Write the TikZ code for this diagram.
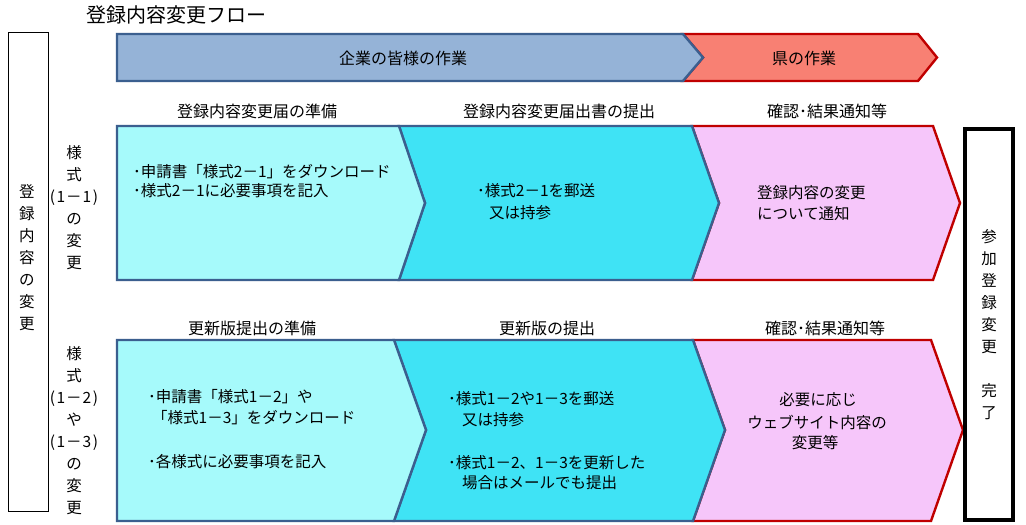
\documentclass[tikz,border=0pt]{standalone}
\usepackage{fontspec}
\setmainfont{Noto Sans CJK JP}
\definecolor{bluefill}{RGB}{149,179,215}
\definecolor{blueline}{RGB}{59,95,143}
\definecolor{salmon}{RGB}{248,128,115}
\definecolor{redline}{RGB}{192,0,0}
\definecolor{lightcyan}{RGB}{166,250,251}
\definecolor{cyanfill}{RGB}{63,227,245}
\definecolor{pinkfill}{RGB}{246,198,250}
\tikzset{
  bluebox/.style={fill=bluefill, draw=blueline, line width=2.4pt, line join=miter},
  redbox/.style={fill=salmon, draw=redline, line width=2.4pt, line join=miter},
  prepbox/.style={fill=lightcyan, draw=blueline, line width=2.4pt, line join=miter},
  subbox/.style={fill=cyanfill, draw=blueline, line width=2.4pt, line join=miter},
  prefbox/.style={fill=pinkfill, draw=redline, line width=2.4pt, line join=miter},
  lbl/.style={font=\fontsize{16}{19}\selectfont, inner sep=0pt},
  body/.style={font=\fontsize{15.5}{19}\selectfont, anchor=west, inner sep=0pt},
  cbody/.style={font=\fontsize{15.5}{19}\selectfont, inner sep=0pt},
  vert/.style={align=center, font=\fontsize{15.5}{22}\selectfont, inner sep=0pt},
}
\begin{document}
\begin{tikzpicture}[x=1pt,y=-1pt]
\useasboundingbox[fill=white] (0,0) rectangle (1026,525);

% title
\node[anchor=west, inner sep=0pt, font=\fontsize{20}{22}\selectfont] (title) at (86,15) {登録内容変更フロー};

% left frame
\draw[black, line width=1pt] (8.5,32.5) rectangle (48.5,511);
\node[vert] (lefttxt) at (27,257.5) {登\\録\\内\\容\\の\\変\\更};

% top arrows
\draw[redbox] (683,34) -- (918,34) -- (937,57.5) -- (918,81) -- (683,81) -- (703,57.5) -- cycle;
\draw[bluebox] (117,34) -- (683,34) -- (703,57.5) -- (683,81) -- (117,81) -- cycle;
\node[lbl] (company) at (403,58) {企業の皆様の作業};
\node[lbl] (pref) at (804,58) {県の作業};

% row 1 labels
\node[lbl] (r1l1) at (257,111) {登録内容変更届の準備};
\node[lbl] (r1l2) at (559,111) {登録内容変更届出書の提出};
\node[lbl] (r1l3) at (827,111) {確認･結果通知等};

% row 1 chevrons
\draw[prefbox] (692,126) -- (933,126) -- (960,203) -- (933,280) -- (692,280) -- (719,203) -- cycle;
\draw[subbox] (399,126) -- (692,126) -- (719,203) -- (692,280) -- (399,280) -- (425,203) -- cycle;
\draw[prepbox] (117,126) -- (399,126) -- (425,203) -- (399,280) -- (117,280) -- cycle;

\node[vert] (r1side) at (74,207.5) {様\\式\\(\kern1.5pt1\kern1pt－\kern1pt1\kern1.5pt)\\の\\変\\更};

\node[body] (r1a1) at (133,172) {･申請書「様式2－1」をダウンロード};
\node[body] (r1a2) at (133,191) {･様式2－1に必要事項を記入};
\node[body] (r1b1) at (477,191) {･様式2－1を郵送};
\node[body] (r1b2) at (489,213) {又は持参};
\node[body] (r1c1) at (757,193) {登録内容の変更};
\node[body] (r1c2) at (757,214) {について通知};

% row 2 labels
\node[lbl] (r2l1) at (252,328) {更新版提出の準備};
\node[lbl] (r2l2) at (547,328) {更新版の提出};
\node[lbl] (r2l3) at (825,328) {確認･結果通知等};

% row 2 chevrons
\draw[prefbox] (693,340) -- (931,340) -- (963,430) -- (931,521) -- (693,521) -- (725,430) -- cycle;
\draw[subbox] (394,340) -- (693,340) -- (725,430) -- (693,521) -- (394,521) -- (426,430) -- cycle;
\draw[prepbox] (117,340) -- (394,340) -- (426,430) -- (394,521) -- (117,521) -- cycle;

\node[vert] (r2side) at (74,430.5) {様\\式\\(\kern1.5pt1\kern1pt－\kern1pt2\kern1.5pt)\\や\\(\kern1.5pt1\kern1pt－\kern1pt3\kern1.5pt)\\の\\変\\更};

\node[body] (r2a1) at (148,397) {･申請書「様式1－2」や};
\node[body] (r2a2) at (152,418) {「様式1－3」をダウンロード};
\node[body] (r2a3) at (148,462) {･各様式に必要事項を記入};
\node[body] (r2b1) at (448,399) {･様式1－2や1－3を郵送};
\node[body] (r2b2) at (462,420) {又は持参};
\node[body] (r2b3) at (448,463) {･様式1－2、1－3を更新した};
\node[body] (r2b4) at (462,483) {場合はメールでも提出};
\node[cbody] (r2c1) at (818,400) {必要に応じ};
\node[cbody] (r2c2) at (817,422) {ウェブサイト内容の};
\node[cbody] (r2c3) at (815,443) {変更等};

% right frame
\draw[black, line width=4pt] (965,129) rectangle (1013,520);
\node[vert] (done) at (989,325) {参\\加\\登\\録\\変\\更\\[22pt]完\\了};
\end{tikzpicture}
\end{document}
